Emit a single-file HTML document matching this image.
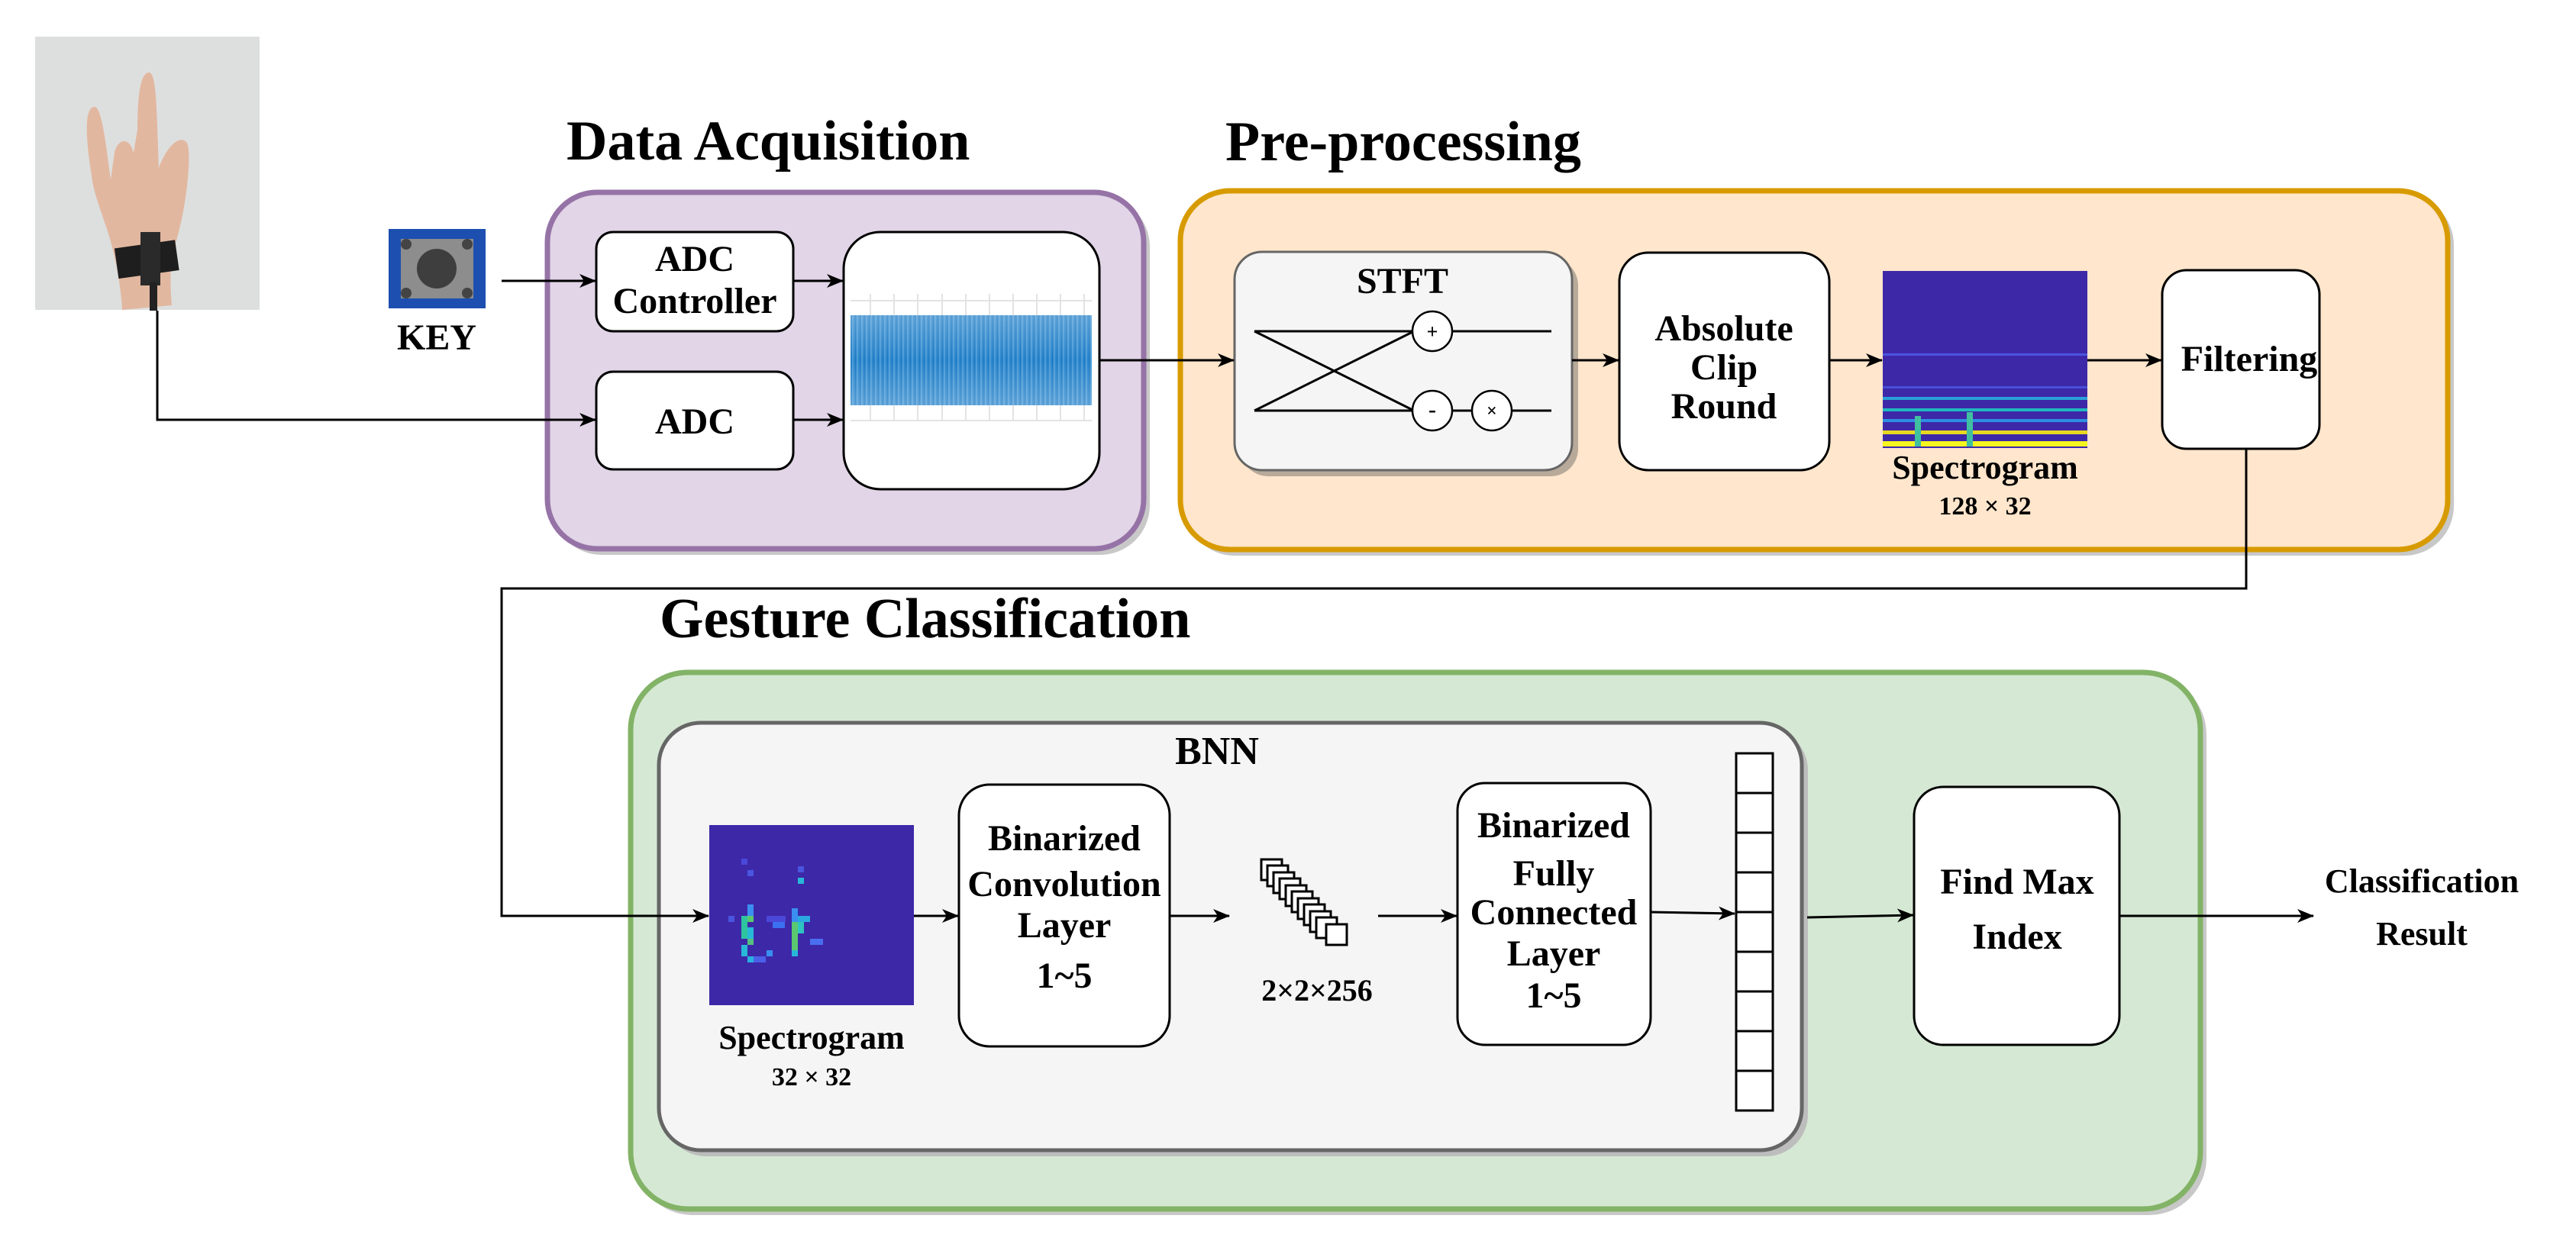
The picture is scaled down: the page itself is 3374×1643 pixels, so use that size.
<!DOCTYPE html>
<html><head><meta charset="utf-8"><style>
html,body{margin:0;padding:0;background:#fff;}
svg{display:block;}
text{font-family:"Liberation Serif",serif;font-weight:bold;fill:#000;}
</style></head><body>
<svg width="3374" height="1643" viewBox="0 0 3374 1643" xmlns="http://www.w3.org/2000/svg">
<defs>
<marker id="ar" viewBox="0 0 22 18" markerWidth="22" markerHeight="18" refX="21" refY="9" orient="auto" markerUnits="userSpaceOnUse">
<path d="M0,0 L22,9 L0,18 L6,9 z" fill="#000"/>
</marker>
<pattern id="wv" width="6" height="10" patternUnits="userSpaceOnUse">
<rect width="6" height="10" fill="#2b86cc"/><rect x="0" width="2" height="10" fill="#4a9ad6"/><rect x="4" width="1" height="10" fill="#1a78c2"/>
</pattern>
<linearGradient id="wg" x1="0" y1="0" x2="0" y2="1">
<stop offset="0" stop-color="#fff" stop-opacity="0.25"/><stop offset="0.5" stop-color="#fff" stop-opacity="0"/><stop offset="1" stop-color="#fff" stop-opacity="0.25"/>
</linearGradient>
</defs>

<!-- hand photo -->
<rect x="46" y="48" width="294" height="358" fill="#dddfde"/>
<path d="M120,230 C112,180 110,140 124,140 C134,140 140,200 145,235 L150,200 C155,180 170,180 175,200 L180,170 C180,120 185,95 195,95 C205,95 205,140 208,220 C215,200 232,175 244,186 C252,195 245,260 235,300 C228,330 220,340 225,400 L160,406 C158,370 150,330 140,300 C130,270 122,250 120,230 Z" fill="#e2b7a0"/>
<rect x="152" y="320" width="80" height="40" fill="#1e1e1e" transform="rotate(-8 190 338)"/>
<rect x="184" y="304" width="26" height="70" fill="#2a2a2a"/>
<rect x="196" y="370" width="10" height="37" fill="#222"/>

<!-- key -->
<rect x="509" y="300" width="127" height="104" fill="#1d4fb0"/>
<rect x="525" y="313" width="95" height="78" fill="#8d8d8d"/>
<circle cx="572" cy="352" r="26" fill="#3e3e3e"/>
<circle cx="532" cy="320" r="7" fill="#444"/><circle cx="612" cy="320" r="7" fill="#444"/>
<circle cx="532" cy="384" r="7" fill="#444"/><circle cx="612" cy="384" r="7" fill="#444"/>
<text x="572" y="458" font-size="48" text-anchor="middle">KEY</text>

<!-- titles -->
<text x="742" y="209" font-size="74">Data Acquisition</text>
<text x="1605" y="210" font-size="74">Pre-processing</text>
<text x="864" y="835" font-size="74">Gesture Classification</text>

<!-- purple group -->
<rect x="723" y="258" width="783" height="469" rx="65" fill="#c8c8c8"/>
<rect x="717" y="252" width="781" height="467" rx="65" fill="#e1d5e7" stroke="#9673a6" stroke-width="7"/>
<rect x="781" y="304" width="258" height="130" rx="22" fill="#fff" stroke="#000" stroke-width="3"/>
<text x="910" y="355" font-size="48" text-anchor="middle">ADC</text>
<text x="910" y="410" font-size="48" text-anchor="middle">Controller</text>
<rect x="781" y="487" width="258" height="128" rx="22" fill="#fff" stroke="#000" stroke-width="3"/>
<text x="910" y="568" font-size="48" text-anchor="middle">ADC</text>
<rect x="1105" y="304" width="335" height="337" rx="48" fill="#fff" stroke="#000" stroke-width="3"/>
<g stroke="#e3e3e3" stroke-width="2">
<line x1="1114" y1="394" x2="1430" y2="394"/><line x1="1114" y1="551" x2="1430" y2="551"/>
<line x1="1140" y1="385" x2="1140" y2="551"/><line x1="1171" y1="385" x2="1171" y2="551"/><line x1="1202" y1="385" x2="1202" y2="551"/><line x1="1234" y1="385" x2="1234" y2="551"/><line x1="1265" y1="385" x2="1265" y2="551"/><line x1="1296" y1="385" x2="1296" y2="551"/><line x1="1327" y1="385" x2="1327" y2="551"/><line x1="1358" y1="385" x2="1358" y2="551"/><line x1="1389" y1="385" x2="1389" y2="551"/><line x1="1420" y1="385" x2="1420" y2="551"/>
</g>
<rect x="1114" y="413" width="316" height="118" fill="url(#wv)"/>
<rect x="1114" y="413" width="316" height="118" fill="url(#wg)"/>

<!-- orange group -->
<rect x="1552" y="256" width="1662" height="472" rx="65" fill="#c8c8c8"/>
<rect x="1546" y="250" width="1660" height="470" rx="65" fill="#ffe6cc" stroke="#d79b00" stroke-width="7"/>
<rect x="1625" y="338" width="442" height="286" rx="36" fill="#b8aa9a"/>
<rect x="1617" y="330" width="442" height="286" rx="36" fill="#f5f5f5" stroke="#666" stroke-width="3"/>
<text x="1837" y="384" font-size="48" text-anchor="middle">STFT</text>
<g stroke="#000" stroke-width="3" fill="none">
<line x1="1643" y1="434" x2="1850" y2="434"/><line x1="1902" y1="434" x2="2032" y2="434"/>
<line x1="1643" y1="538" x2="1850" y2="538"/><line x1="1902" y1="538" x2="1928" y2="538"/><line x1="1980" y1="538" x2="2032" y2="538"/>
<line x1="1643" y1="434" x2="1852" y2="538"/><line x1="1643" y1="538" x2="1852" y2="434"/>
<circle cx="1876" cy="434" r="26" fill="#fff" stroke-width="2.5"/>
<circle cx="1876" cy="538" r="26" fill="#fff" stroke-width="2.5"/>
<circle cx="1954" cy="538" r="26" fill="#fff" stroke-width="2.5"/>
</g>
<text x="1876" y="443" font-size="26" text-anchor="middle" font-weight="normal">+</text>
<text x="1876" y="546" font-size="30" text-anchor="middle">-</text>
<text x="1954" y="546" font-size="24" text-anchor="middle" font-weight="normal">×</text>
<rect x="2121" y="331" width="275" height="285" rx="38" fill="#fff" stroke="#000" stroke-width="3"/>
<text x="2258" y="446" font-size="48" text-anchor="middle">Absolute</text>
<text x="2258" y="497" font-size="48" text-anchor="middle">Clip</text>
<text x="2258" y="548" font-size="48" text-anchor="middle">Round</text>
<!-- big spectrogram -->
<rect x="2466" y="355" width="268" height="232" fill="#3d28a8"/>
<rect x="2466" y="463" width="268" height="3" fill="#4a55e0"/>
<rect x="2466" y="506" width="268" height="3" fill="#4650d8"/>
<rect x="2466" y="520" width="268" height="4" fill="#2aa0d8"/>
<rect x="2466" y="535" width="268" height="4" fill="#20b8c0"/>
<rect x="2466" y="549" width="268" height="4" fill="#2c8fe0"/>
<rect x="2466" y="564" width="268" height="5" fill="#e8d820"/>
<rect x="2466" y="578" width="268" height="7" fill="#f5f520"/>
<rect x="2508" y="545" width="8" height="40" fill="#40c0a0"/>
<rect x="2576" y="540" width="8" height="45" fill="#40c0a0"/>
<text x="2600" y="627" font-size="44" text-anchor="middle">Spectrogram</text>
<text x="2600" y="674" font-size="34" text-anchor="middle">128 × 32</text>
<rect x="2832" y="354" width="206" height="234" rx="32" fill="#fff" stroke="#000" stroke-width="3"/>
<text x="2946" y="486" font-size="48" text-anchor="middle">Filtering</text>

<!-- green group -->
<rect x="832" y="887" width="2058" height="705" rx="75" fill="#c8c8c8"/>
<rect x="826" y="881" width="2056" height="703" rx="75" fill="#d5e8d4" stroke="#82b366" stroke-width="7"/>
<rect x="870" y="954" width="1498" height="561" rx="55" fill="#bdbdbd"/>
<rect x="863" y="947" width="1497" height="560" rx="55" fill="#f5f5f5" stroke="#666" stroke-width="5"/>
<text x="1594" y="1001" font-size="52" text-anchor="middle">BNN</text>
<!-- small spectrogram -->
<rect x="929" y="1081" width="268" height="236" fill="#3d28a8"/>
<g fill="#3b8ff0">
<rect x="971" y="1200" width="8" height="30" fill="#2ec4a0"/><rect x="979" y="1200" width="8" height="8" fill="#5ac870"/>
<rect x="979" y="1215" width="8" height="15" fill="#28b8d8"/><rect x="979" y="1230" width="8" height="8" fill="#56c080"/>
<rect x="979" y="1185" width="8" height="15"/><rect x="979" y="1140" width="8" height="8" fill="#4a55e0"/><rect x="971" y="1125" width="8" height="8" fill="#4a48d8"/>
<rect x="971" y="1238" width="8" height="15" fill="#28b8d8"/><rect x="979" y="1253" width="8" height="8" fill="#28b0e0"/>
<rect x="1037" y="1190" width="8" height="45"/><rect x="1037" y="1208" width="8" height="38" fill="#5ac870"/><rect x="1045" y="1200" width="16" height="8" fill="#2aa8e0"/>
<rect x="1045" y="1208" width="8" height="15" fill="#2ec4c0"/><rect x="1045" y="1150" width="8" height="8" fill="#28b8d8"/><rect x="1045" y="1135" width="8" height="8" fill="#4a55e0"/>
<rect x="1037" y="1245" width="8" height="8" fill="#28b8d8"/><rect x="1061" y="1230" width="17" height="8" fill="#4a6ef0"/>
<rect x="1004" y="1200" width="25" height="8" fill="#4a48d8"/><rect x="1012" y="1208" width="16" height="8" fill="#3b70f0"/><rect x="954" y="1200" width="8" height="8" fill="#4a55e0"/>
<rect x="1004" y="1245" width="8" height="8" fill="#3b8ff0"/><rect x="987" y="1253" width="16" height="8" fill="#4a60e8"/>
</g>
<text x="1063" y="1374" font-size="44" text-anchor="middle">Spectrogram</text>
<text x="1063" y="1422" font-size="34" text-anchor="middle">32 × 32</text>
<rect x="1256" y="1028" width="276" height="343" rx="40" fill="#fff" stroke="#000" stroke-width="3"/>
<text x="1394" y="1114" font-size="48" text-anchor="middle">Binarized</text>
<text x="1394" y="1174" font-size="48" text-anchor="middle">Convolution</text>
<text x="1394" y="1228" font-size="48" text-anchor="middle">Layer</text>
<text x="1394" y="1294" font-size="48" text-anchor="middle">1~5</text>
<!-- stack -->
<g fill="#fff" stroke="#000" stroke-width="3">
<rect x="1652" y="1126" width="27" height="27"/><rect x="1660" y="1134" width="27" height="27"/><rect x="1668" y="1143" width="27" height="27"/><rect x="1676" y="1151" width="27" height="27"/><rect x="1684" y="1160" width="27" height="27"/><rect x="1692" y="1168" width="27" height="27"/><rect x="1700" y="1177" width="27" height="27"/><rect x="1708" y="1185" width="27" height="27"/><rect x="1716" y="1194" width="27" height="27"/><rect x="1724" y="1202" width="27" height="27"/><rect x="1737" y="1211" width="27" height="27"/>
</g>
<text x="1725" y="1311" font-size="40" text-anchor="middle">2×2×256</text>
<rect x="1909" y="1026" width="253" height="343" rx="36" fill="#fff" stroke="#000" stroke-width="3"/>
<text x="2035" y="1097" font-size="48" text-anchor="middle">Binarized</text>
<text x="2035" y="1160" font-size="48" text-anchor="middle">Fully</text>
<text x="2035" y="1211" font-size="48" text-anchor="middle">Connected</text>
<text x="2035" y="1265" font-size="48" text-anchor="middle">Layer</text>
<text x="2035" y="1320" font-size="48" text-anchor="middle">1~5</text>
<!-- vector -->
<g fill="#fff" stroke="#000" stroke-width="3">
<rect x="2274" y="987" width="48" height="52"/><rect x="2274" y="1039" width="48" height="52"/><rect x="2274" y="1091" width="48" height="52"/><rect x="2274" y="1143" width="48" height="52"/><rect x="2274" y="1195" width="48" height="52"/><rect x="2274" y="1247" width="48" height="52"/><rect x="2274" y="1299" width="48" height="52"/><rect x="2274" y="1351" width="48" height="52"/><rect x="2274" y="1403" width="48" height="52"/>
</g>
<rect x="2507" y="1031" width="269" height="338" rx="38" fill="#fff" stroke="#000" stroke-width="3"/>
<text x="2642" y="1171" font-size="48" text-anchor="middle">Find Max</text>
<text x="2642" y="1243" font-size="48" text-anchor="middle">Index</text>
<text x="3172" y="1169" font-size="44" text-anchor="middle">Classification</text>
<text x="3172" y="1238" font-size="44" text-anchor="middle">Result</text>

<!-- connectors -->
<g stroke="#000" stroke-width="3" fill="none" marker-end="url(#ar)">
<line x1="657" y1="368" x2="780" y2="368"/>
<line x1="1039" y1="368" x2="1104" y2="368"/>
<polyline points="206,407 206,550 780,550"/>
<line x1="1039" y1="550" x2="1104" y2="550"/>
<line x1="1440" y1="472" x2="1616" y2="472"/>
<line x1="2059" y1="472" x2="2120" y2="472"/>
<line x1="2396" y1="472" x2="2465" y2="472"/>
<line x1="2734" y1="472" x2="2831" y2="472"/>
<polyline points="2942,588 2942,771 657,771 657,1200 928,1200"/>
<line x1="1197" y1="1200" x2="1255" y2="1200"/>
<line x1="1532" y1="1200" x2="1610" y2="1200"/>
<line x1="1805" y1="1200" x2="1908" y2="1200"/>
<line x1="2162" y1="1195" x2="2272" y2="1197"/>
<line x1="2367" y1="1202" x2="2506" y2="1199"/>
<line x1="2776" y1="1200" x2="3030" y2="1200"/>
</g>
</svg>
</body></html>
